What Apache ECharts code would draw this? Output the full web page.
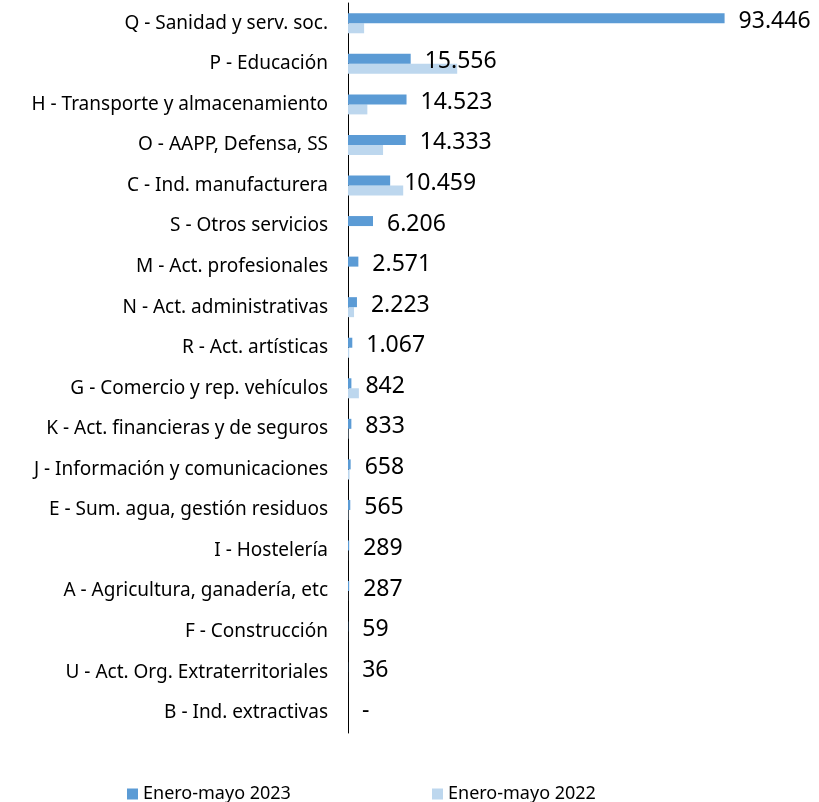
<!DOCTYPE html>
<html>
<head>
<meta charset="utf-8">
<script src="https://cdn.jsdelivr.net/npm/echarts@6/dist/echarts.min.js"></script>
<style>
  html, body { margin: 0; padding: 0; background: #fff; }
  #chart { width: 819px; height: 802px; }
</style>
</head>
<body>
<div id="chart"></div>
<script>
const categories = [
  'Q - Sanidad y serv. soc.',
  'P - Educación',
  'H - Transporte y almacenamiento',
  'O - AAPP, Defensa, SS',
  'C - Ind. manufacturera',
  'S - Otros servicios',
  'M - Act. profesionales',
  'N - Act. administrativas',
  'R - Act. artísticas',
  'G - Comercio y rep. vehículos',
  'K - Act. financieras y de seguros',
  'J - Información y comunicaciones',
  'E - Sum. agua, gestión residuos',
  'I - Hostelería',
  'A - Agricultura, ganadería, etc',
  'F - Construcción',
  'U - Act. Org. Extraterritoriales',
  'B - Ind. extractivas'
]
const values2023 = [93446, 15556, 14523, 14333, 10459, 6206, 2571, 2223, 1067, 842, 833, 658, 565, 289, 287, 59, 36, 0]
const values2022 = [4000, 27100, 4800, 8700, 13700, 0, 0, 1500, 300, 2700, 100, 400, 100, 20, 20, 10, 10, 0]

const fmt = v => v === 0 ? '-' : String(v).replace(/\B(?=(\d{3})+(?!\d))/g, '.')

const chart = echarts.init(document.getElementById('chart'))
chart.setOption({
  animation: false,
  textStyle: { fontFamily: 'Noto Sans' },
  grid: { left: 348, top: 3, height: 730, right: 68 },
  legend: [
    {
      data: ['Enero-mayo 2023'], left: 122, top: 780,
      itemWidth: 11, itemHeight: 11, icon: 'rect', itemGap: 6,
      textStyle: { fontSize: 18, color: '#000', fontFamily: 'Noto Sans' }
    },
    {
      data: ['Enero-mayo 2022'], left: 427, top: 780,
      itemWidth: 11, itemHeight: 11, icon: 'rect', itemGap: 6,
      textStyle: { fontSize: 18, color: '#000', fontFamily: 'Noto Sans' }
    }
  ],
  xAxis: {
    type: 'value', min: 0, max: 100000, show: false
  },
  yAxis: {
    type: 'category',
    data: categories,
    inverse: true,
    axisLine: { show: true, lineStyle: { color: '#000', width: 1 } },
    axisTick: { show: false },
    axisLabel: { color: '#000', fontSize: 19, margin: 20, fontFamily: 'Noto Sans' }
  },
  series: [
    {
      name: 'Enero-mayo 2023',
      type: 'bar',
      data: values2023,
      barWidth: 10,
      barGap: '0%',
      itemStyle: { color: '#5B9BD5' },
      z: 3,
      label: {
        show: true,
        position: 'right',
        distance: 14,
        offset: [0, 3],
        color: '#000',
        fontSize: 23,
        fontFamily: 'Noto Sans',
        formatter: p => fmt(p.value)
      }
    },
    {
      name: 'Enero-mayo 2022',
      type: 'bar',
      data: values2022,
      barWidth: 10,
      itemStyle: { color: '#BDD7EE' },
      z: 2
    }
  ]
})
</script>
</body>
</html>
